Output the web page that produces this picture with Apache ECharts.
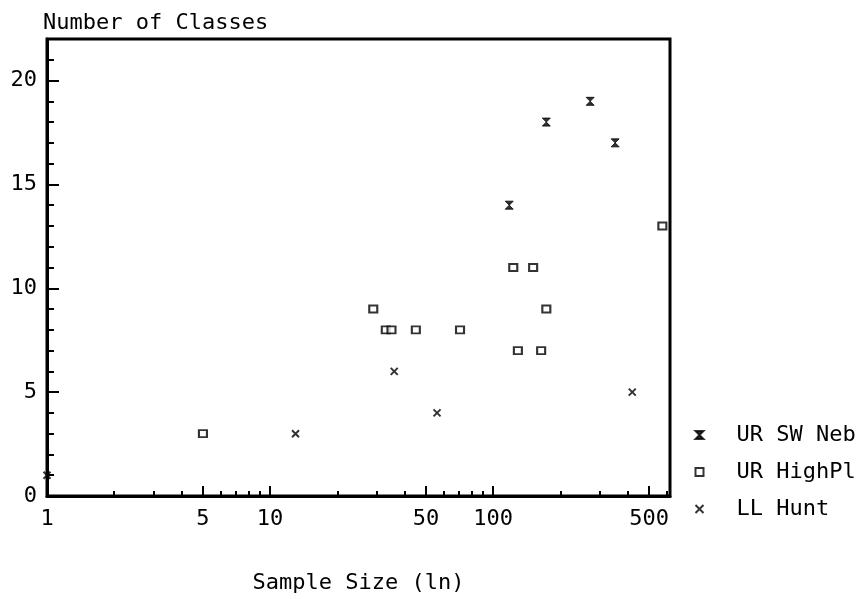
<!DOCTYPE html>
<html>
<head>
<meta charset="utf-8">
<script src="https://cdn.jsdelivr.net/npm/echarts@6/dist/echarts.min.js"></script>
<style>
  html, body { margin: 0; padding: 0; background: #fff; }
  #chart { width: 860px; height: 599px; }
</style>
</head>
<body>
<div id="chart"></div>
<script>
// sample size (x) and number of classes (y), one pair per site
const swNebX = [118, 173, 272, 352];
const swNebY = [14, 18, 19, 17];

const highPlX = [5, 29, 33, 35, 45, 71, 123, 151, 173, 129, 164, 573];
const highPlY = [3, 9, 8, 8, 8, 8, 11, 11, 9, 7, 7, 13];

const huntX = [1, 13, 36, 56, 420];
const huntY = [1, 3, 6, 4, 5];

const xLabels = [1, 5, 10, 50, 100, 500];
const xMinorTicks = [2, 3, 4, 6, 7, 8, 9, 20, 30, 40, 60, 70, 80, 90, 200, 300, 400, 600];
const yLabels = [0, 5, 10, 15, 20];

const FONT = 'DejaVu Sans Mono';

const zip = (xs, ys) => xs.map((x, i) => [x, ys[i]]);

const chart = echarts.init(document.getElementById('chart'));

const axisText = { fontFamily: FONT, fontSize: 22, color: '#000' };

chart.setOption({
  animation: false,
  backgroundColor: '#fff',
  grid: {
    left: 47, right: 190, top: 39, bottom: 89,
    show: true, borderColor: '#000', borderWidth: 3
  },
  legend: {
    orient: 'vertical',
    left: 688,
    top: 419,
    itemWidth: 8,
    itemHeight: 8,
    itemGap: 15,
    textStyle: { fontFamily: FONT, fontSize: 22, color: '#000', padding: [0, 0, 0, 28] },
    data: ['UR SW Neb', 'UR HighPl', 'LL Hunt']
  },
  xAxis: [
    {
      type: 'log', logBase: 10, min: 1, max: 620, position: 'bottom',
      name: 'Sample Size (ln)', nameLocation: 'middle', nameGap: 76,
      nameTextStyle: axisText,
      axisLine: { show: true, lineStyle: { color: '#000', width: 3 } },
      axisTick: { show: true, inside: true, length: 10, customValues: xLabels,
                  lineStyle: { color: '#000', width: 2 } },
      axisLabel: { customValues: xLabels, margin: 12, ...axisText },
      splitLine: { show: false }
    },
    {
      type: 'log', logBase: 10, min: 1, max: 620, position: 'bottom',
      axisLine: { show: false },
      axisTick: { show: true, inside: true, length: 5, customValues: xMinorTicks,
                  lineStyle: { color: '#000', width: 2 } },
      axisLabel: { show: false },
      splitLine: { show: false }
    }
  ],
  yAxis: [
    {
      type: 'value', min: 0, max: 22, interval: 1, position: 'left',
      name: 'Number of Classes', nameLocation: 'end', nameGap: 5,
      nameTextStyle: { ...axisText, align: 'left', padding: [0, 0, 0, -4] },
      axisLine: { show: true, lineStyle: { color: '#000', width: 3 } },
      axisTick: { show: true, inside: true, length: 7, lineStyle: { color: '#000', width: 2 } },
      axisLabel: { customValues: yLabels, margin: 10, ...axisText },
      splitLine: { show: false }
    },
    {
      type: 'value', min: 0, max: 22, interval: 1, position: 'left',
      axisLine: { show: false },
      axisTick: { show: true, inside: true, length: 12, customValues: yLabels,
                  lineStyle: { color: '#000', width: 2 } },
      axisLabel: { show: false },
      splitLine: { show: false }
    }
  ],
  series: [
    {
      name: 'UR SW Neb', type: 'scatter', xAxisIndex: 0, yAxisIndex: 0,
      symbol: 'path://M0,0H10L0,10H10Z', symbolSize: [8, 8],
      itemStyle: { color: '#000', borderColor: '#000', borderWidth: 1 },
      data: zip(swNebX, swNebY)
    },
    {
      name: 'UR HighPl', type: 'scatter', xAxisIndex: 0, yAxisIndex: 0,
      symbol: 'rect', symbolSize: [8, 7],
      itemStyle: { color: '#fff', borderColor: '#000', borderWidth: 2 },
      data: zip(highPlX, highPlY)
    },
    {
      name: 'LL Hunt', type: 'scatter', xAxisIndex: 0, yAxisIndex: 0,
      symbol: 'path://M0,0L10,10M10,0L0,10', symbolSize: [7, 7],
      itemStyle: { color: 'none', borderColor: '#000', borderWidth: 2 },
      data: zip(huntX, huntY)
    }
  ]
});
</script>
</body>
</html>
